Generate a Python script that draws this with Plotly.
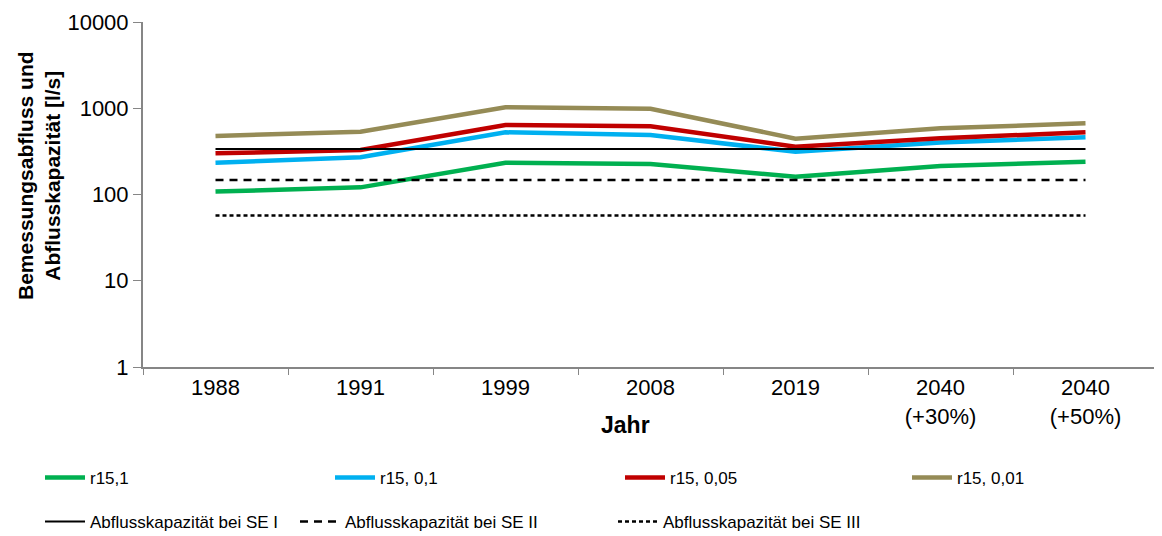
import plotly.graph_objects as go

# Kategorien (x-Achse)
jahre = ["1988", "1991", "1999", "2008", "2019", "2040<br>(+30%)", "2040<br>(+50%)"]

# Bemessungsabfluss [l/s]
r15_1 = [108, 121, 234, 226, 161, 214, 240]
r15_01 = [234, 270, 526, 490, 313, 400, 460]
r15_005 = [300, 328, 640, 617, 358, 449, 526]
r15_001 = [477, 535, 1025, 988, 444, 585, 668]

# Abflusskapazität [l/s]
kap_se1 = [337] * 7
kap_se2 = [147] * 7
kap_se3 = [57] * 7

font_fam = "Liberation Sans, Arial, sans-serif"
axis_grey = "#868686"

# die Seite hat 8px Body-Rand, daher Figur etwas kleiner
W, H = 1154, 528
OFF = 8

serien = [
    ("r15,1", r15_1, "#00B050", "solid", 4.5),
    ("r15, 0,1", r15_01, "#00B0F0", "solid", 4.5),
    ("r15, 0,05", r15_005, "#C00000", "solid", 4.5),
    ("r15, 0,01", r15_001, "#958B56", "solid", 4.5),
    ("Abflusskapazität bei SE I", kap_se1, "black", "solid", 2),
    ("Abflusskapazität bei SE II", kap_se2, "black", "8px,6px", 2.5),
    ("Abflusskapazität bei SE III", kap_se3, "black", "4px,3px", 2.5),
]

# Legendenplätze (Symbolanfang x, Zeilenmitte y) in Bildpixeln
legend_pos = [(45, 478), (335, 478), (625, 478), (912, 478),
              (45, 522), (300, 522), (618, 522)]

fig = go.Figure()
legend_layout = {}
for i, (name, werte, farbe, dash, w) in enumerate(serien):
    key = "legend" if i == 0 else f"legend{i + 1}"
    fig.add_trace(go.Scatter(
        x=jahre, y=werte, name=name, mode="lines", showlegend=True,
        line=dict(color=farbe, width=w, dash=dash), legend=key,
    ))
    px_x, px_y = legend_pos[i]
    legend_layout[key] = dict(
        orientation="h", xref="container", yref="container",
        x=(px_x - OFF - 5) / W, y=1 - (px_y - OFF) / H,
        xanchor="left", yanchor="middle",
        font=dict(size=17), itemwidth=40, bgcolor="rgba(0,0,0,0)",
    )

# Plotfläche in Bildpixeln
left, top, right, bottom = 143, 22, 1158, 367
pw, ph = right - left, bottom - top

fig.update_layout(
    width=W, height=H, showlegend=True,
    plot_bgcolor="white", paper_bgcolor="white",
    margin=dict(l=left - OFF, r=W - (right - OFF), t=top - OFF,
                b=H - (bottom - OFF), autoexpand=False),
    font=dict(family=font_fam, size=20, color="black"),
    **legend_layout,
)

fig.update_xaxes(
    type="category", range=[-0.5, 6.5], showline=True, linecolor=axis_grey,
    linewidth=2, ticks="outside", tickson="boundaries", ticklen=6,
    tickcolor=axis_grey, showgrid=False, tickfont=dict(size=22),
)
fig.update_yaxes(
    type="log", range=[0, 4], showline=True, linecolor=axis_grey, linewidth=2,
    ticks="outside", ticklen=8, tickcolor=axis_grey, showgrid=False,
    tickvals=[1, 10, 100, 1000, 10000],
    ticktext=["1", "10", "100", "1000", "10000"],
    tickfont=dict(size=22),
)

# Achsentitel
fig.add_annotation(
    text="<b>Jahr</b>", xref="paper", yref="paper",
    x=(625 - left) / pw, y=-(425 - bottom) / ph,
    showarrow=False, font=dict(size=23), xanchor="center", yanchor="middle",
)
fig.add_annotation(
    text="<b>Bemessungsabfluss und<br>Abflusskapazität [l/s]</b>",
    xref="paper", yref="paper", x=(39 - left) / pw, y=(bottom - 176) / ph,
    showarrow=False, textangle=-90, font=dict(size=21),
    xanchor="center", yanchor="middle",
)

fig.write_html("out.html")
